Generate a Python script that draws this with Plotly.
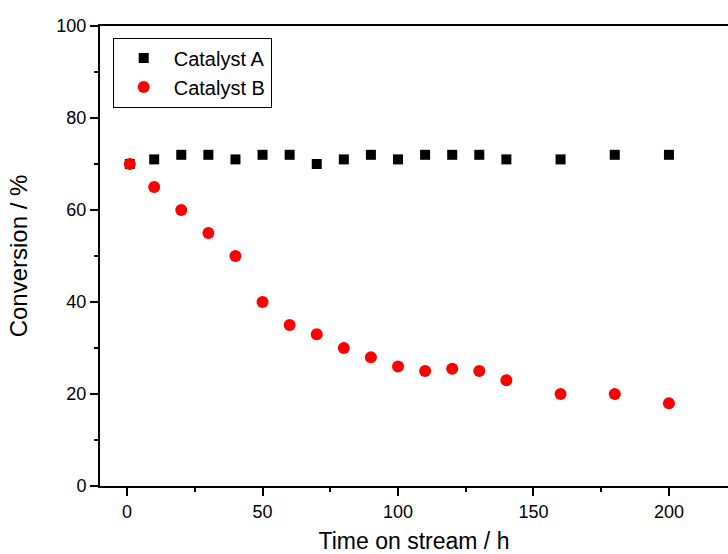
import plotly.graph_objects as go

time_h = [1, 10, 20, 30, 40, 50, 60, 70, 80, 90, 100, 110, 120, 130, 140, 160, 180, 200]
cat_a = [70, 71, 72, 72, 71, 72, 72, 70, 71, 72, 71, 72, 72, 72, 71, 71, 72, 72]
cat_b = [70, 65, 60, 55, 50, 40, 35, 33, 30, 28, 26, 25, 25.5, 25, 23, 20, 20, 18]

FONT = "Arial, Liberation Sans, sans-serif"

fig = go.Figure()
fig.add_trace(go.Scatter(x=time_h, y=cat_a, mode="markers", name="Catalyst A",
                         marker=dict(symbol="square", size=10, color="black")))
fig.add_trace(go.Scatter(x=time_h, y=cat_b, mode="markers", name="Catalyst B",
                         marker=dict(symbol="circle", size=12, color="#ff0000")))

axis_common = dict(
    showgrid=False, zeroline=False, showline=True, linecolor="black", linewidth=2,
    ticks="outside", ticklen=8, tickwidth=2, tickcolor="black",
    tickfont=dict(family=FONT, size=18, color="black"),
    automargin=False,
)

fig.update_layout(
    width=728, height=554,
    margin=dict(l=100, r=0, t=26, b=68),
    paper_bgcolor="white", plot_bgcolor="white",
    font=dict(family=FONT, color="black"),
    xaxis=dict(range=[-10, 221.8], tickvals=[0, 50, 100, 150, 200], mirror=True,
               minor=dict(dtick=25, tick0=0, ticks="outside", ticklen=4, tickwidth=2, tickcolor="black"),
               title=dict(text="Time on stream / h", font=dict(family=FONT, size=23), standoff=19),
               **axis_common),
    yaxis=dict(range=[0, 100], tickvals=[0, 20, 40, 60, 80, 100],
               minor=dict(dtick=10, tick0=0, ticks="outside", ticklen=4, tickwidth=2, tickcolor="black"),
               title=dict(text="Conversion / %", font=dict(family=FONT, size=24), standoff=22),
               **axis_common),
    showlegend=True,
    legend=dict(x=0.0202, y=0.975, xanchor="left", yanchor="top",
                bordercolor="black", borderwidth=1, bgcolor="white",
                font=dict(family=FONT, size=20, color="black"),
                itemwidth=50, tracegroupgap=0),
)

fig.write_html("out.html")
